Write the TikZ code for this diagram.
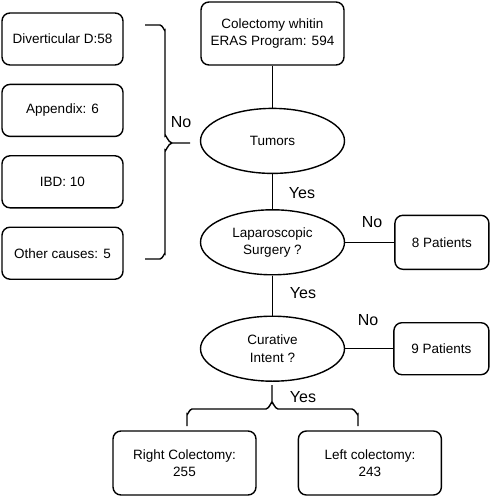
\documentclass[tikz,border=0pt]{standalone}
\usepackage{fontspec}
\setmainfont{Liberation Sans}
\usetikzlibrary{positioning, shapes.geometric}

\begin{document}
\begin{tikzpicture}[x=1pt, y=-1pt, line width=1.4pt, font=\fontsize{13.5}{17.5}\selectfont]
            % Define block styles
            \tikzstyle{block} = [rectangle, draw, align=center, rounded corners=8pt, minimum width=143pt, minimum height=63pt, inner sep=2pt]
            \tikzstyle{smallblock} = [block, minimum width=121pt, minimum height=52pt]
            \tikzstyle{decision} = [ellipse, draw, align=center, minimum width=144pt, minimum height=65pt, inner sep=1pt]
            \tikzstyle{answer} = [font=\fontsize{16}{19}\selectfont, inner sep=0pt]

            \useasboundingbox (0,0) rectangle (489,497);

            % Place main nodes
            \node [block] (program) at (272.5,33.5) {Colectomy whitin\\ERAS Program: 594};
            \node [decision, below=42pt of program] (tumors) {Tumors};
            \node [decision, below=35pt of tumors] (lap) {Laparoscopic\\Surgery ?};
            \node [decision, below=40pt of lap] (curative) {Curative\\Intent ?};
            \node [block, minimum width=94pt, minimum height=54pt, right=49pt of lap] (eight) {8 Patients};
            \node [block, minimum width=95pt, minimum height=52pt, right=48pt of curative] (nine) {9 Patients};
            \node [block, minimum height=64pt] (rightcol) at (184.5,463) {Right Colectomy:\\255};
            \node [block, minimum height=64pt, right=41pt of rightcol] (leftcol) {Left colectomy:\\243};

            % Place excluded blocks on the left
            \node [smallblock] (divert) at (62.5,39) {Diverticular D:58};
            \node [smallblock, below=18pt of divert] (append) {Appendix: 6};
            \node [smallblock, below=18pt of append] (ibd) {IBD: 10};
            \node [smallblock, below=18pt of ibd] (other) {Other causes: 5};

            % Draw connections
            \draw (program) -- (tumors);
            \draw (tumors) -- (lap);
            \draw (lap) -- (curative);
            \draw (lap) -- (eight);
            \draw (curative) -- (nine);

            % Left brace
            \coordinate (ltop) at (145,25);
            \coordinate (lbot) at (145,259);
            \coordinate (ltip) at (190,143);
            \draw (ltop) -- (160,25) to[out=0, in=-90] (165,30) -- (165,136)
                  to[out=90, in=180] (172,143) -- (ltip);
            \draw (172,143) to[out=180, in=-90] (165,150) -- (165,254)
                  to[out=90, in=0] (160,259) -- (lbot);

            % Bottom brace
            \coordinate (btip) at (272,385);
            \coordinate (bleft) at (187,426);
            \coordinate (bright) at (358,426);
            \draw (bleft) -- (187,414) to[out=-90, in=180] (192,409) -- (266,409)
                  to[out=0, in=90] (272,403) -- (btip);
            \draw (272,403) to[out=90, in=180] (278,409) -- (352,409)
                  to[out=0, in=-90] (358,414) -- (bright);

            % Add text on the connections
            \node [answer] (nobrace) at (181,122) {No};
            \node [answer] (yestum) at (302,193) {Yes};
            \node [answer] (nolap) at (372,222) {No};
            \node [answer] (yeslap) at (303,293) {Yes};
            \node [answer] (nocur) at (368,320) {No};
            \node [answer] (yescur) at (303,397) {Yes};

        \end{tikzpicture}
\end{document}
